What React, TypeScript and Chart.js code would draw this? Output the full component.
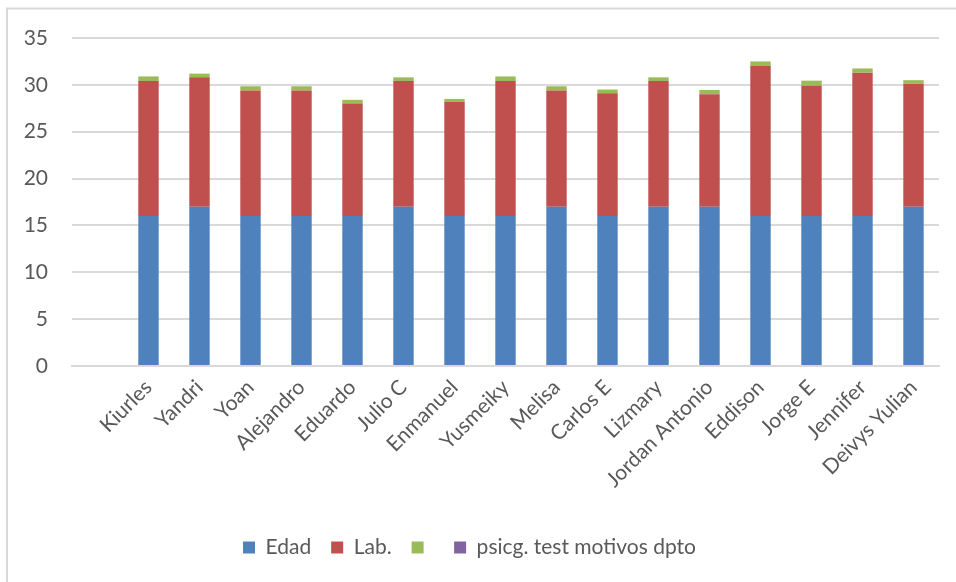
import React, { useEffect, useRef } from "react";
import { Chart, registerables } from "chart.js";

Chart.register(...registerables);

const categories = [
  "",
  "Kiurles",
  "Yandri",
  "Yoan",
  "Alejandro",
  "Eduardo",
  "Julio C",
  "Enmanuel",
  "Yusmeiky",
  "Melisa",
  "Carlos E",
  "Lizmary",
  "Jordan Antonio",
  "Eddison",
  "Jorge E",
  "Jennifer",
  "Deivys Yulian",
];

const edad = [null, 16, 17, 16, 16, 16, 17, 16, 16, 17, 16, 17, 17, 16, 16, 16, 17];
const lab = [null, 14.4, 13.8, 13.4, 13.4, 12.0, 13.4, 12.2, 14.4, 12.4, 13.1, 13.4, 12.0, 16.0, 13.9, 15.3, 13.1];
const extra = [null, 0.5, 0.4, 0.45, 0.45, 0.4, 0.4, 0.3, 0.5, 0.45, 0.4, 0.4, 0.45, 0.5, 0.55, 0.45, 0.4];
const psicg = [null, 0, 0, 0, 0, 0, 0, 0, 0, 0, 0, 0, 0, 0, 0, 0, 0];

const yTicks = [0, 5, 10, 15, 20, 25, 30, 35];

const FONT = "Lato, 'Open Sans', sans-serif";
const FONT_SIZE = 21;
const TEXT = "#595959";
const GRID = "#d9d9d9";

const framePlugin = {
  id: "frame",
  beforeDraw(chart: any) {
    const ctx = chart.ctx;
    ctx.save();
    ctx.fillStyle = "#ffffff";
    ctx.fillRect(0, 0, chart.width, chart.height);
    ctx.strokeStyle = GRID;
    ctx.lineWidth = 2;
    ctx.beginPath();
    ctx.moveTo(7, chart.height);
    ctx.lineTo(7, 8.5);
    ctx.lineTo(chart.width, 8.5);
    ctx.stroke();
    ctx.restore();
  },
};

export default function App() {
  const ref = useRef<HTMLCanvasElement | null>(null);

  useEffect(() => {
    if (!ref.current) return;
    const mk = (label: string, data: any[], color: string) => ({
      label,
      data,
      backgroundColor: color,
      borderWidth: 0,
      barPercentage: 0.4,
      categoryPercentage: 1,
      stack: "s",
    });
    const chart = new Chart(ref.current, {
      type: "bar",
      data: {
        labels: categories,
        datasets: [
          mk("Edad", edad, "#4f81bd"),
          mk("Lab.", lab, "#c0504d"),
          mk("", extra, "#9bbb59"),
          mk("psicg. test motivos dpto", psicg, "#8064a2"),
        ],
      },
      options: {
        animation: false,
        responsive: false,
        maintainAspectRatio: false,
        layout: { padding: { left: 0, right: 17, top: 38, bottom: 14 } },
        plugins: {
          tooltip: { enabled: false },
          legend: {
            position: "bottom",
            labels: {
              color: TEXT,
              font: { family: FONT, size: FONT_SIZE },
              boxWidth: 12,
              boxHeight: 12,
              padding: 20,
            },
          },
        },
        scales: {
          x: {
            stacked: true,
            grid: { display: false, drawTicks: false },
            border: { display: true, color: GRID, width: 2 },
            ticks: {
              color: TEXT,
              font: { family: FONT, size: FONT_SIZE },
              maxRotation: 45,
              minRotation: 45,
              padding: 9,
              autoSkip: false,
            },
            afterFit(scale: any) {
              scale.height = 151;
            },
          },
          y: {
            stacked: true,
            min: 0,
            max: 35,
            afterBuildTicks(scale: any) {
              scale.ticks = yTicks.map((v) => ({ value: v }));
            },
            grid: { color: GRID, lineWidth: 2, drawTicks: false },
            border: { display: false },
            ticks: {
              color: TEXT,
              font: { family: FONT, size: FONT_SIZE },
              padding: 24,
            },
            afterFit(scale: any) {
              scale.width = 72;
            },
          },
        },
      },
      plugins: [framePlugin],
    });
    return () => chart.destroy();
  }, []);

  return (
    <div style={{ position: "absolute", left: 0, top: 0, width: 956, height: 582 }}>
      <canvas ref={ref} width={956} height={582} style={{ width: 956, height: 582, display: "block" }} />
    </div>
  );
}
